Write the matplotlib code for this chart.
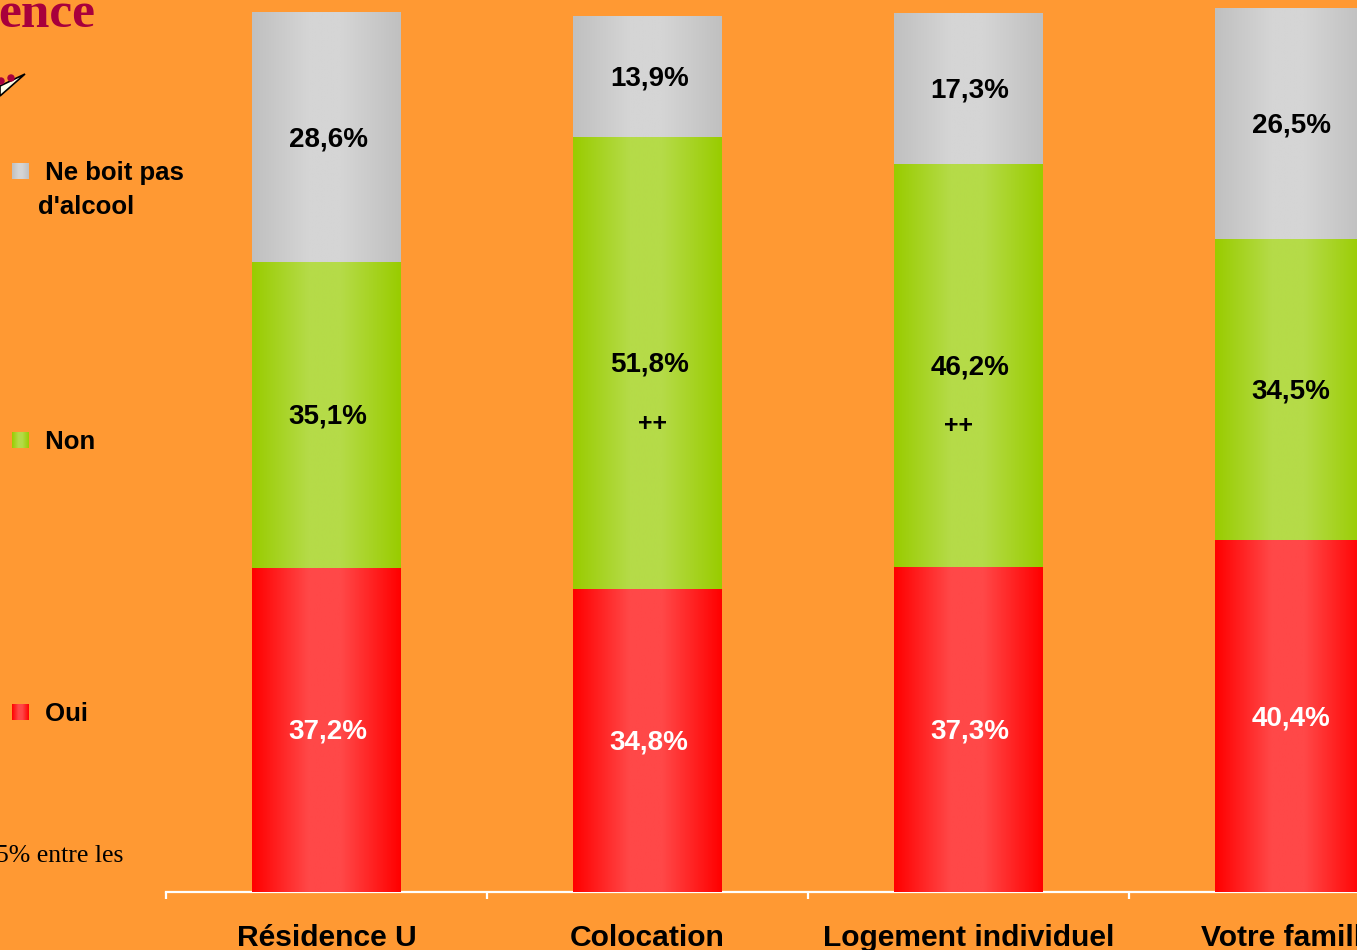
import numpy as np
import matplotlib
matplotlib.use("Agg")
import matplotlib.pyplot as plt
from matplotlib.colors import LinearSegmentedColormap
from matplotlib.patches import Polygon, Circle

# data
categories = ["Résidence U", "Colocation", "Logement individuel", "Votre famille"]
oui = [37.2, 34.8, 37.3, 40.4]
non = [35.1, 51.8, 46.2, 34.5]
ne_boit_pas = [28.6, 13.9, 17.3, 26.5]
signif = ["", "++", "++", ""]

series_names = ["Oui", "Non", "Ne boit pas"]
series_vals = [oui, non, ne_boit_pas]
# (edge colour, centre colour) of the bar gradients
series_cols = [("#FF0000", "#FF4848"), ("#99CC00", "#B5DB48"), ("#C0C0C0", "#D5D5D5")]
label_cols = ["white", "black", "black"]

BG = "#FF9933"
plt.rcParams['font.family'] = ['Liberation Sans', 'DejaVu Sans']

fig = plt.figure(figsize=(13.57, 9.5), dpi=100, facecolor=BG)
ax = fig.add_axes([166 / 1357, 58 / 950, 1 - 166 / 1357, 1 - 58 / 950])
ax.set_facecolor(BG)

# horizontal gradient profile: dark edges, light centre
t = np.linspace(0, 1, 200)
profile = np.clip(np.minimum(t / 0.38, (1 - t) / 0.4), 0, 1)
grad = profile[np.newaxis, :]

width = 0.462
x = np.arange(len(categories))
bottom = np.zeros(len(categories))
for vals, (dark, light), tcol in zip(series_vals, series_cols, label_cols):
    vals = np.array(vals)
    bars = ax.bar(x, vals, width, bottom=bottom, color=dark, linewidth=0, zorder=2)
    cmap = LinearSegmentedColormap.from_list("g", [dark, light])
    for b in bars:
        im = ax.imshow(grad, extent=[b.get_x(), b.get_x() + b.get_width(),
                                     b.get_y(), b.get_y() + b.get_height()],
                       aspect='auto', cmap=cmap, vmin=0, vmax=1, zorder=3,
                       interpolation='bilinear')
        im.set_clip_path(b)
    for xi, b0, v in zip(x, bottom, vals):
        ax.text(xi + 0.005, b0 + v / 2 - 0.25, f"{v:.1f}".replace('.', ',') + "%",
                ha='center', va='center', fontsize=20, fontweight='bold',
                color=tcol, zorder=4)
    bottom = bottom + vals

# "++" marks under the green labels
plus_dx = [0, 0.015, -0.032, 0]
for xi, s, b0, v, dx in zip(x, signif, oui, non, plus_dx):
    if s:
        ax.text(xi + dx, b0 + v / 2 - 7.0, s, ha='center', va='center',
                fontsize=18, fontweight='bold', color='black', zorder=4)

ax.set_xlim(-0.5, 3.21)
ax.set_ylim(0, 102.3)

for sp in ['left', 'right', 'top']:
    ax.spines[sp].set_visible(False)
ax.spines['bottom'].set_color('white')
ax.spines['bottom'].set_linewidth(1.6)
ax.set_yticks([])
ax.set_xticks(np.arange(-0.5, 3.0, 1.0))
ax.set_xticklabels([])
ax.tick_params(axis='x', which='major', color='white', width=1.6, length=5, direction='out')
ax.set_xticks(x, minor=True)
ax.set_xticklabels(categories, minor=True, fontsize=21.6, fontweight='bold')
ax.tick_params(axis='x', which='minor', length=0, pad=23)

# overlay in pixel coordinates for legend and slide fragments
lax = fig.add_axes([0, 0, 1, 1])
lax.set_xlim(0, 1357)
lax.set_ylim(950, 0)
lax.axis('off')
lax.patch.set_alpha(0)

leg_items = [(2, 171, [" Ne boit pas", "d'alcool"]),
             (1, 440, [" Non"]),
             (0, 712, [" Oui"])]
for k, yc, lines in leg_items:
    dark, light = series_cols[k]
    cmap = LinearSegmentedColormap.from_list("g", [dark, light])
    lax.imshow(grad, extent=[12, 29, yc + 8, yc - 8], aspect='auto', cmap=cmap,
               vmin=0, vmax=1, interpolation='bilinear')
    lax.text(38, yc + 2, lines[0], ha='left', va='center', fontsize=18.5, fontweight='bold')
    if len(lines) > 1:
        lax.text(38, yc + 36, lines[1], ha='left', va='center', fontsize=18.5,
                 fontweight='bold')

lax.set_xlim(0, 1357)
lax.set_ylim(950, 0)

# title fragment and clip-art pointer
lax.text(-2, 27, "ence", ha='left', va='baseline', fontsize=37, fontweight='bold',
         family='Liberation Serif', color='#A8003C')
lax.add_patch(Polygon([(0, 86), (25, 74), (0, 96)], closed=True,
                      facecolor='#FFFFE6', edgecolor='black', linewidth=1.2))
lax.add_patch(Circle((11, 78), 3, color='#A8003C'))
lax.add_patch(Circle((1, 81), 3, color='#A8003C'))

# footnote fragment
lax.text(123, 862, "5% entre les", ha='right', va='baseline', fontsize=18.5,
         family='Liberation Serif', color='black')

fig.savefig("out.png", dpi=100, facecolor=BG)
